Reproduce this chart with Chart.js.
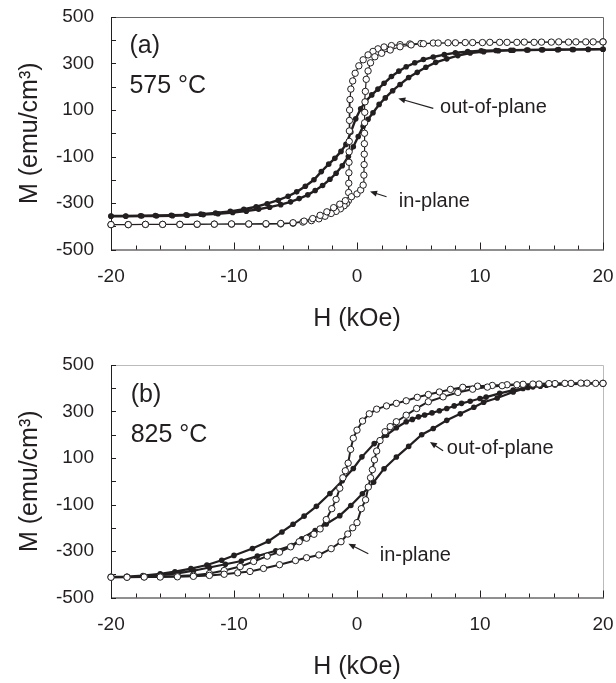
<!DOCTYPE html>
<html>
<head>
<meta charset="utf-8">
<script src="https://cdn.jsdelivr.net/npm/chart.js@4.4.0/dist/chart.umd.min.js"></script>
<style>
  body { margin: 0; background: #fff; }
  #wrap { position: relative; width: 616px; height: 683px; }
  .panel { position: absolute; left: 0; width: 616px; height: 335px; }
</style>
</head>
<body>
<div id="wrap">
  <div class="panel" style="top:0"><canvas id="chartA" width="616" height="335"></canvas></div>
  <div class="panel" style="top:348px"><canvas id="chartB" width="616" height="335"></canvas></div>
</div>
<script>
// axis ticks
const xLabels = [-20, -10, 0, 10, 20];
const yLabels = [-500, -300, -100, 100, 300, 500];
const xMarks = [-20, -18, -16, -14, -12, -10, -8, -6, -4, -2, 0, 2, 4, 6, 8, 10, 12, 14, 16, 18, 20];
const yMarks = [-500, -400, -300, -200, -100, 0, 100, 200, 300, 400, 500];

// (a) 575 C  -- [H kOe, M emu/cm3], field sweep down then up
const aInDown = [[20,393],[18.6,393],[17.2,392],[15.8,392],[14.4,391],[13,391],[11.6,391],[10.2,390],[8.8,390],[7.4,389],
  [6.2,388],[5.2,386],[4.3,384],[3.5,381],[2.8,377],[2.2,371],[1.7,363],[1.3,352],[0.9,337],[0.5,316],
  [0.15,290],[-0.15,258],[-0.35,225],[-0.5,190],[-0.57,145],[-0.6,100],[-0.61,55],[-0.62,10],[-0.63,-35],[-0.64,-80],
  [-0.65,-125],[-0.66,-170],[-0.67,-215],[-0.68,-255],[-0.7,-290],[-0.85,-302],[-1.05,-312],[-1.35,-325],[-1.7,-336],[-2.1,-345],
  [-2.6,-357],[-3.1,-368],[-3.7,-376],[-4.4,-382],[-5.2,-387],[-6.2,-390],[-7.4,-391],[-8.8,-391],[-10.2,-391],[-11.6,-391],
  [-13,-392],[-14.4,-392],[-15.8,-392],[-17.2,-392],[-18.6,-393],[-20,-393]];
const aInUp = [[-20,-393],[-18.6,-393],[-17.2,-392],[-15.8,-392],[-14.4,-392],[-13,-391],[-11.6,-391],[-10.2,-390],[-8.8,-390],[-7.4,-389],
  [-6.2,-388],[-5.2,-385],[-4.3,-378],[-3.6,-367],[-3,-353],[-2.45,-338],[-1.9,-320],[-1.4,-305],[-0.95,-290],[-0.45,-273],
  [0,-261],[0.3,-244],[0.5,-223],[0.56,-180],[0.58,-135],[0.59,-90],[0.6,-45],[0.61,0],[0.62,45],[0.63,90],
  [0.65,135],[0.68,180],[0.75,232],[0.9,268],[1.1,303],[1.45,329],[2,344],[2.7,358],[3.5,372],[4.4,380],
  [5.4,385],[6.6,388],[8,389],[9.4,390],[10.8,391],[12.2,391],[13.6,392],[15,392],[16.4,393],[17.8,393],[19.2,393],[20,393]];
const aOutDown = [[20,361],[18.8,360],[17.5,360],[16.3,359],[15,359],[13.8,358],[12.5,357],[11.3,356],[10.1,355],[9,351],
  [8,346],[7.1,338],[6.2,328],[5.4,317],[4.7,303],[4,286],[3.4,267],[2.8,244],[2.2,215],[1.7,190],
  [1.2,165],[0.7,137],[0.3,105],[-0.1,62],[-0.5,5],[-0.9,-48],[-1.3,-78],[-1.8,-108],[-2.3,-133],[-2.9,-165],
  [-3.5,-200],[-4.2,-228],[-4.9,-252],[-5.6,-271],[-6.4,-288],[-7.3,-303],[-8.2,-316],[-9.2,-327],[-10.3,-336],[-11.5,-343],
  [-12.7,-348],[-13.9,-351],[-15.1,-353],[-16.4,-354],[-17.6,-355],[-18.8,-356],[-20,-356]];
const aOutUp = [[-20,-357],[-18.8,-357],[-17.5,-356],[-16.3,-356],[-15,-355],[-13.8,-353],[-12.5,-350],[-11.3,-346],[-10.1,-341],[-9,-335],
  [-8,-327],[-7.1,-318],[-6.2,-307],[-5.4,-295],[-4.7,-281],[-4,-265],[-3.4,-246],[-2.8,-225],[-2.2,-198],[-1.7,-172],
  [-1.2,-140],[-0.7,-100],[-0.3,-58],[0.1,-14],[0.5,30],[0.9,60],[1.3,88],[1.8,124],[2.3,152],[2.9,183],
  [3.5,210],[4.2,240],[4.9,262],[5.6,284],[6.4,305],[7.3,320],[8.2,334],[9.2,345],[10.3,351],[11.5,355],
  [12.7,357],[13.9,358],[15.1,359],[16.4,360],[17.6,360],[18.8,361],[20,361]];

// (b) 825 C
const bInDown = [[20,421],[18.7,422],[17.4,421],[16.1,420],[14.8,418],[13.5,417],[12.2,415],[11,412],[9.8,409],[8.6,404],
  [7.6,395],[6.7,384],[5.8,373],[4.9,361],[4,346],[3.2,335],[2.4,324],[1.6,310],[1,290],[0.45,259],
  [0,220],[-0.3,185],[-0.52,137],[-0.72,78],[-0.95,45],[-1.15,15],[-1.4,-30],[-1.7,-78],[-2.05,-118],[-2.5,-165],
  [-3,-205],[-3.5,-228],[-4.1,-245],[-4.7,-260],[-5.4,-282],[-6.3,-305],[-7.3,-322],[-8.4,-345],[-9.5,-367],[-10.8,-384],
  [-12,-397],[-13.3,-404],[-14.6,-408],[-16,-410],[-17.3,-411],[-18.7,-412],[-20,-412]];
const bInUp = [[-20,-413],[-18.7,-413],[-17.3,-412],[-16,-412],[-14.6,-411],[-13.3,-409],[-12,-405],[-10.8,-400],[-9.7,-394],[-8.7,-388],
  [-7.6,-375],[-6.3,-359],[-5,-341],[-4.1,-329],[-3.1,-317],[-2.1,-290],[-1.3,-260],[-0.75,-227],[-0.35,-200],[0,-178],
  [0.35,-118],[0.7,-80],[0.92,-25],[1.1,15],[1.25,50],[1.42,92],[1.6,130],[1.87,175],[2.28,213],[2.7,235],
  [3.2,256],[4,284],[4.85,313],[5.8,342],[7,363],[8.2,382],[9.4,396],[10.6,405],[11.8,411],[13,415],
  [14.3,418],[15.6,420],[16.9,421],[18.2,422],[19.4,421],[20,421]];
const bOutDown = [[20,421],[18.7,420],[17.4,418],[16.1,414],[14.9,409],[14.3,406],[13.5,399],[12.7,392],[11.6,378],[10.5,362],
  [10,356],[9.2,344],[8.5,335],[7.9,324],[7.3,313],[6.7,303],[6.1,294],[5.5,285],[5,277],[4.5,266],
  [4,256],[3.2,230],[2.4,198],[1.4,162],[0.4,105],[-0.3,55],[-1.2,2],[-2.2,-53],[-3.3,-108],[-4.3,-150],
  [-5.2,-185],[-6.1,-218],[-7.2,-258],[-8.5,-289],[-10,-319],[-11,-340],[-12.2,-360],[-13.5,-376],[-14.8,-389],[-16,-398],
  [-17.4,-406],[-18.7,-410],[-20,-411]];
const bOutUp = [[-20,-412],[-18.7,-411],[-17.4,-409],[-16,-404],[-14.6,-396],[-13.3,-385],[-12,-371],[-10.7,-357],[-9.4,-343],[-8.1,-322],
  [-6.6,-299],[-5.3,-277],[-4.5,-247],[-3.4,-212],[-2.5,-184],[-1.4,-148],[-0.5,-104],[0.44,-54],[1.35,-4],[2.2,54],
  [3.2,104],[4.2,150],[5.26,200],[6.2,227],[7.3,262],[8.4,290],[9.5,318],[10.3,340],[11.4,358],[12.7,384],
  [13.9,403],[15.4,413],[16.9,418],[18.4,420],[20,421]];

const family = "'Liberation Sans', Arial, sans-serif";
const ink = '#231f20';

function toPoints(down, up) {
  return down.concat(up).map(p => ({x: p[0], y: p[1]}));
}

// axes frame with inside ticks
const frame = {
  id: 'frame',
  beforeDatasetsDraw(chart, args, opts) {
    const {ctx, chartArea: a, scales: {x, y}} = chart;
    ctx.save();
    ctx.lineWidth = 1;
    ctx.strokeStyle = opts.edge;
    ctx.beginPath();
    ctx.moveTo(a.left, a.top + 0.5);
    ctx.lineTo(a.right + 0.5, a.top + 0.5);
    ctx.lineTo(a.right + 0.5, a.bottom);
    ctx.stroke();
    ctx.strokeStyle = ink;
    ctx.beginPath();
    ctx.moveTo(a.left + 0.5, a.top);
    ctx.lineTo(a.left + 0.5, a.bottom + 0.5);
    ctx.lineTo(a.right + 1, a.bottom + 0.5);
    xMarks.forEach(v => {
      const px = Math.round(x.getPixelForValue(v)) + 0.5;
      const len = v % 10 === 0 ? 7 : 4;
      ctx.moveTo(px, a.bottom);
      ctx.lineTo(px, a.bottom - len);
    });
    yMarks.forEach(v => {
      const py = Math.round(y.getPixelForValue(v)) + 0.5;
      ctx.moveTo(a.left, py);
      ctx.lineTo(a.left + 5, py);
    });
    ctx.stroke();
    ctx.restore();
  }
};

// panel labels and arrows
const notes = {
  id: 'notes',
  afterDatasetsDraw(chart, args, opts) {
    const {ctx, scales: {x, y}} = chart;
    ctx.save();
    ctx.fillStyle = ink;
    ctx.strokeStyle = ink;
    ctx.textAlign = 'left';
    ctx.textBaseline = 'middle';
    opts.texts.forEach(t => {
      ctx.font = t.size + 'px ' + family;
      ctx.fillText(t.text, x.getPixelForValue(t.h), y.getPixelForValue(t.m));
    });
    opts.arrows.forEach(ar => {
      const x0 = x.getPixelForValue(ar.from[0]), y0 = y.getPixelForValue(ar.from[1]);
      const x1 = x.getPixelForValue(ar.to[0]), y1 = y.getPixelForValue(ar.to[1]);
      const ang = Math.atan2(y1 - y0, x1 - x0);
      ctx.lineWidth = 1.2;
      ctx.beginPath();
      ctx.moveTo(x0, y0);
      ctx.lineTo(x1 - 4 * Math.cos(ang), y1 - 4 * Math.sin(ang));
      ctx.stroke();
      ctx.beginPath();
      ctx.moveTo(x1, y1);
      ctx.lineTo(x1 - 7 * Math.cos(ang) + 3 * Math.sin(ang), y1 - 7 * Math.sin(ang) - 3 * Math.cos(ang));
      ctx.lineTo(x1 - 7 * Math.cos(ang) - 3 * Math.sin(ang), y1 - 7 * Math.sin(ang) + 3 * Math.cos(ang));
      ctx.closePath();
      ctx.fill();
    });
    ctx.restore();
  }
};

function buildScales() {
  return {
    x: {
      type: 'linear', min: -20, max: 20,
      afterBuildTicks: s => { s.ticks = xLabels.map(v => ({value: v})); },
      afterFit: s => { s.height = 85.5; s.paddingLeft = 0; s.paddingRight = 0; },
      grid: {display: false, drawTicks: false},
      border: {display: false},
      ticks: {font: {size: 19, family: family}, color: ink, padding: 16, maxRotation: 0, autoSkip: false},
      title: {display: true, text: 'H (kOe)', color: ink, font: {size: 25, family: family}, padding: {top: 0, bottom: 1}}
    },
    y: {
      type: 'linear', min: -500, max: 500,
      afterBuildTicks: s => { s.ticks = yLabels.map(v => ({value: v})); },
      afterFit: s => { s.width = 111; s.paddingTop = 0; s.paddingBottom = 0; },
      grid: {display: false, drawTicks: false},
      border: {display: false},
      ticks: {font: {size: 19, family: family}, color: ink, padding: 17, autoSkip: false},
      title: {display: true, text: 'M (emu/cm³)', color: ink, font: {size: 25, family: family}, padding: {top: 15, bottom: 0}}
    }
  };
}

function BuildPanel(id, inPlane, outPlane, lineIn, lineOut, edge, texts, arrows) {
  new Chart(document.getElementById(id), {
    type: 'scatter',
    data: {
      datasets: [
        {label: 'in-plane', data: inPlane, showLine: true, borderColor: ink, borderWidth: lineIn,
         pointRadius: 3.2, pointBorderWidth: 1, pointBackgroundColor: '#fff', pointBorderColor: ink, clip: 8},
        {label: 'out-of-plane', data: outPlane, showLine: true, borderColor: ink, borderWidth: lineOut,
         pointRadius: 2.8, pointBorderWidth: 0, pointBackgroundColor: ink, pointBorderColor: ink, clip: 8}
      ]
    },
    options: {
      responsive: false,
      animation: false,
      devicePixelRatio: 1,
      layout: {padding: {top: 17, right: 13, left: 0, bottom: 0}},
      scales: buildScales(),
      plugins: {
        legend: {display: false},
        tooltip: {enabled: false},
        frame: {edge: edge},
        notes: {texts: texts, arrows: arrows}
      }
    },
    plugins: [frame, notes]
  });
}

BuildPanel('chartA', toPoints(aInDown, aInUp), toPoints(aOutDown, aOutUp), 1.2, 2.4, '#666',
  [{text: '(a)', h: -18.5, m: 375, size: 25},
   {text: '575 °C', h: -18.5, m: 203, size: 25},
   {text: 'out-of-plane', h: 6.75, m: 112, size: 20},
   {text: 'in-plane', h: 3.4, m: -294, size: 20}],
  [{from: [6.2, 107], to: [3.36, 150]},
   {from: [2.4, -273], to: [1.06, -251]}]);

BuildPanel('chartB', toPoints(bInDown, bInUp), toPoints(bOutDown, bOutUp), 2, 2.2, '#bbb',
  [{text: '(b)', h: -18.4, m: 371, size: 25},
   {text: '825 °C', h: -18.4, m: 200, size: 25},
   {text: 'out-of-plane', h: 7.3, m: 141, size: 20},
   {text: 'in-plane', h: 1.85, m: -319, size: 20}],
  [{from: [7.0, 131], to: [5.93, 169]},
   {from: [0.92, -312], to: [-0.7, -269]}]);
</script>
</body>
</html>
